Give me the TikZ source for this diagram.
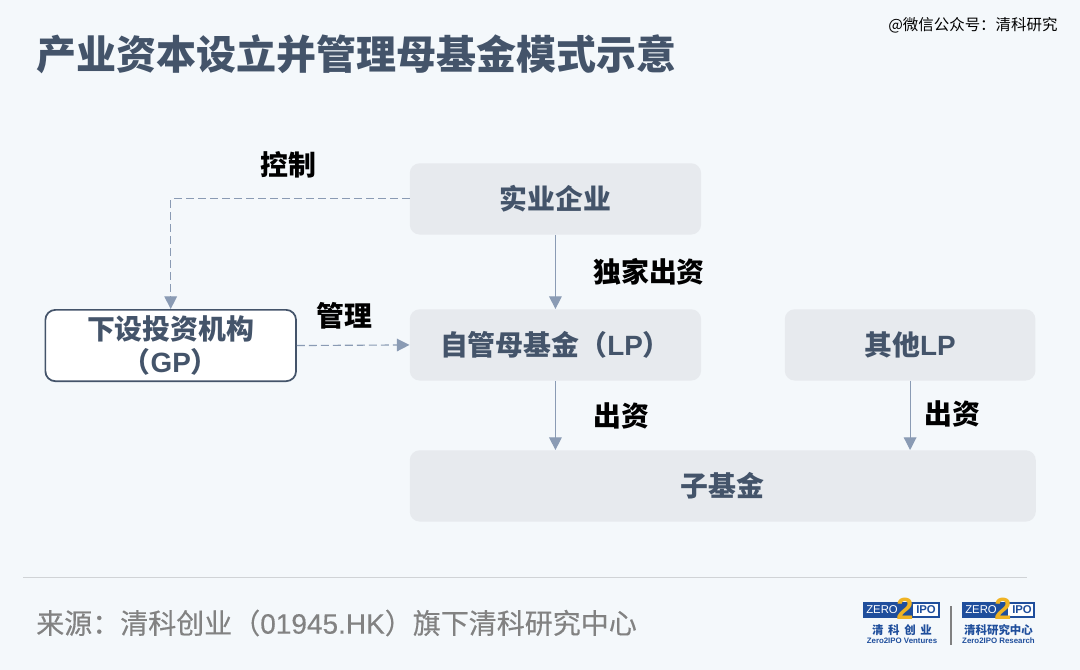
\documentclass[tikz,border=0pt]{standalone}
\usepackage{fontspec}
\setmainfont{Noto Sans CJK SC}
\newfontfamily\latinfont{Liberation Sans}
\newfontfamily\srcfont[FakeBold=0.35]{Noto Sans CJK SC}
\newfontfamily\srclatin[FakeBold=0.35]{Liberation Sans}
\usetikzlibrary{arrows.meta,positioning}
\definecolor{pagebg}{HTML}{F4F8FB}
\definecolor{boxgray}{HTML}{E7EAEE}
\definecolor{slate}{HTML}{44546A}
\definecolor{arrowgray}{HTML}{8A9BB4}
\definecolor{rulegray}{HTML}{D0D3D6}
\definecolor{srcgray}{HTML}{828282}
\definecolor{logoblue}{HTML}{1F4E9C}
\definecolor{logogold}{HTML}{F0B323}
\newcommand{\fsz}[1]{\fontsize{#1}{#1}\selectfont}
\newcommand{\lat}[1]{{\latinfont #1}}
\tikzset{
  grayBox/.style={rectangle, rounded corners=7.5pt, fill=boxgray, text=slate, font=\fsz{20.9}\bfseries, inner sep=0pt, anchor=north west},
  gpBox/.style={grayBox, fill=white, draw=slate, line width=1.3pt, align=center},
  flowLabel/.style={text=black, font=\fsz{20.9}\bfseries, inner sep=0pt},
  flowArrow/.style={draw=arrowgray, line width=0.85pt, -{Triangle[length=9.5pt,width=9.5pt]}},
  dashArrow/.style={flowArrow, dash pattern=on 6pt off 3pt},
  logoText/.style={text=logoblue, inner sep=0pt, font=\fsz{8.6}\bfseries}
}
\begin{document}
\begin{tikzpicture}[x=0.75pt,y=-0.75pt]
\useasboundingbox (0,0) rectangle (1080,670);
\fill[pagebg] (0,0) rectangle (1080,670);
% heading
\node[anchor=west, text=slate, font=\fsz{30}\bfseries, inner sep=0pt] (heading) at (36,54) {产业资本设立并管理母基金模式示意};
\node[anchor=west, text=black, font=\fsz{11.6}, inner sep=0pt] (wechat) at (888,25) {@微信公众号：清科研究};
% boxes
\node[grayBox, minimum width=218.5pt, minimum height=53.5pt] (parent) at (409.5,163) {实业企业};
\node[grayBox, minimum width=218.5pt, minimum height=53.5pt] (fund) at (409.5,309) {自管母基金（\lat{LP}）};
\node[grayBox, minimum width=188pt, minimum height=53.5pt] (otherlp) at (784.5,309) {其他\lat{LP}};
\node[grayBox, minimum width=469.5pt, minimum height=53.5pt] (subfund) at (409.5,450) {子基金};
\node[gpBox, minimum width=188pt, minimum height=53.5pt] (gp) at (44.5,309) {下设投资机构\\[4pt]（\lat{GP}）};
% arrows
\draw[dashArrow] (parent.west) -| (gp.north);
\draw[dashArrow] (gp.east) -- (fund.west);
\draw[flowArrow] (parent.south) -- (fund.north);
\draw[flowArrow] (fund.south) -- (fund.south |- subfund.north);
\draw[flowArrow] (otherlp.south) -- (otherlp.south |- subfund.north);
% labels
\node[flowLabel] (lcontrol) at (288,165) {控制};
\node[flowLabel] (lmanage) at (344,316) {管理};
\node[flowLabel] (lsole) at (649,272) {独家出资};
\node[flowLabel] (lfund) at (621,416) {出资};
\node[flowLabel] (lother) at (952,414) {出资};
% footer
\draw[rulegray, line width=0.8pt] (23,577.5) -- (1027,577.5);
\node[anchor=west, text=srcgray, font=\srcfont\fsz{21}, inner sep=0pt] (source) at (36,623) {来源：清科创业（{\srclatin 01945.HK}）旗下清科研究中心};
% logos
\foreach \lx/\ly/\lw in {863/602/77,962/602/73}{
  \fill[logoblue] (\lx,\ly) rectangle ++(\lw,16);
  \fill[white] (\lx+\lw-27,\ly+2) rectangle ++(25,12);
}
\node[text=white, font=\latinfont\fsz{8.5}, inner sep=0pt, anchor=west] (zeroa) at (866,610) {ZERO};
\node[text=logogold, font=\latinfont\fsz{23}\bfseries, inner sep=0pt] (twoa) at (905,609) {2};
\node[text=logoblue, font=\latinfont\fsz{8.5}\bfseries, inner sep=0pt] (ipoa) at (926,610) {IPO};
\node[text=white, font=\latinfont\fsz{8.5}, inner sep=0pt, anchor=west] (zerob) at (965,610) {ZERO};
\node[text=logogold, font=\latinfont\fsz{23}\bfseries, inner sep=0pt] (twob) at (1003,609) {2};
\node[text=logoblue, font=\latinfont\fsz{8.5}\bfseries, inner sep=0pt] (ipob) at (1022,610) {IPO};
\node[logoText] (cna) at (902,630) {清\hspace{3.5pt}科\hspace{3.5pt}创\hspace{3.5pt}业};
\node[logoText] (cnb) at (998.5,630) {清科研究中心};
\node[logoText, font=\latinfont\fsz{5.9}\bfseries] (ena) at (902,641) {Zero2IPO Ventures};
\node[logoText, font=\latinfont\fsz{5.9}\bfseries] (enb) at (998.5,641) {Zero2IPO Research};
\draw[gray, line width=0.9pt] (951,606) -- (951,645);
\end{tikzpicture}
\end{document}
